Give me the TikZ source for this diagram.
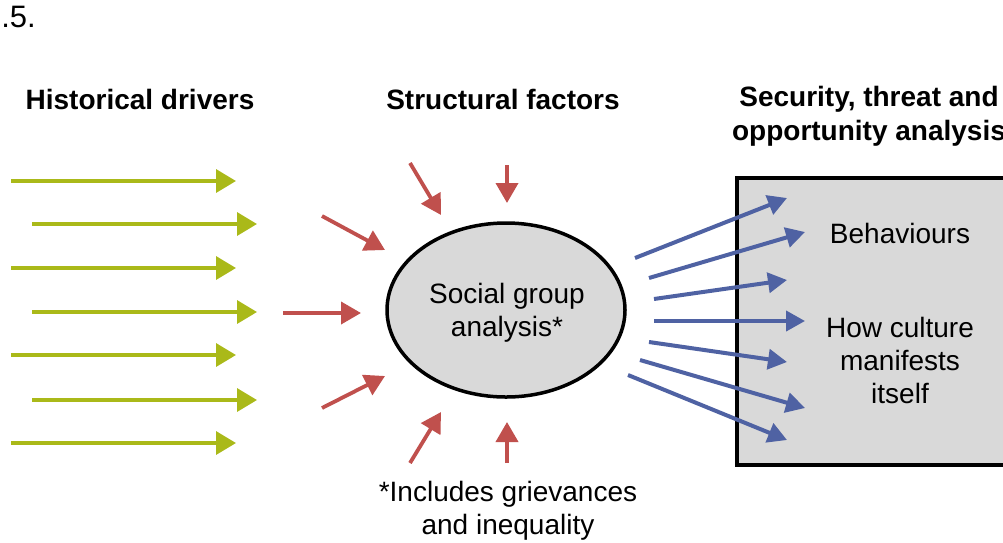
\documentclass[tikz,border=0pt]{standalone}
\usepackage{fontspec}
\setmainfont{Liberation Sans}
\usetikzlibrary{shapes.geometric,arrows.meta}
\definecolor{olivegreen}{RGB}{170,185,25}
\definecolor{brickred}{RGB}{192,80,77}
\definecolor{steelblue}{RGB}{79,98,163}
\definecolor{panelgray}{RGB}{217,217,217}
\tikzset{
  txt/.style={font=\fontsize{28}{33}\selectfont, align=center, inner sep=0pt},
  ttl/.style={font=\bfseries\fontsize{28}{34}\selectfont, align=center, inner sep=0pt},
  garrow/.style={draw=olivegreen, line width=3.4pt, -{Triangle[length=20pt,width=23pt]}},
  rarrow/.style={draw=brickred, line width=3.8pt, -{Triangle[length=20pt,width=22pt]}},
  barrow/.style={draw=steelblue, line width=4pt, -{Triangle[length=19pt,width=20pt]}},
}
\begin{document}
\begin{tikzpicture}[x=1pt,y=-1pt]
\useasboundingbox (0,0) rectangle (1003,542);
\clip (0,0) rectangle (1003,542);

% figure number (cut off at left)
\node[txt, font=\fontsize{31}{36}\selectfont, anchor=east] (fignum) at (36,17) {2.5.};

% titles
\node[ttl] (t1) at (140,99) {Historical drivers};
\node[ttl] (t2) at (503,99) {Structural factors};
\node[ttl] (t3) at (869,116) {Security, threat and\\opportunity analysis};

% right panel
\node[draw=black, line width=3.5pt, fill=panelgray, minimum width=300pt, minimum height=287pt, anchor=north west, inner sep=0pt] (panel) at (735,176) {};
\node[txt] (beh) at (900,233) {Behaviours};
\node[txt] (cult) at (900,360) {How culture\\manifests\\itself};

% central ellipse
\node[ellipse, draw=black, line width=3.5pt, fill=panelgray, minimum width=238pt, minimum height=174pt, inner sep=0pt] (sga) at (506,310) {};
\node[txt] (sgatext) at (507,313) {Social group\\analysis*};

% footnote
\node[txt] (note) at (508,511) {*Includes grievances\\and inequality};

% green arrows (historical drivers)
\foreach \i/\xs/\xe/\y in {1/11/236/181, 2/32/257/224, 3/11/236/268, 4/32/257/312, 5/11/236/355, 6/32/257/400, 7/11/236/443}{
  \coordinate (gs\i) at (\xs,\y);
  \coordinate (ge\i) at (\xe,\y);
  \draw[garrow] (gs\i) -- (ge\i);
}

% red arrows (structural factors)
\foreach \i/\xs/\ys/\xe/\ye in {1/410/163/441/215, 2/507/165/507/203, 3/322/216/385/250, 4/283/313/361/313, 5/322/408/385/376, 6/410/463/441/412, 7/507/463/507/422}{
  \coordinate (rs\i) at (\xs,\ys);
  \coordinate (re\i) at (\xe,\ye);
  \draw[rarrow] (rs\i) -- (re\i);
}

% blue arrows (outputs)
\foreach \i/\xs/\ys/\xe/\ye in {1/635/258/787/198, 2/649/278/805/232, 3/654/299/787/280, 4/654/321/805/321, 5/649/342/787/362, 6/640/360/805/408, 7/628/375/787/440}{
  \coordinate (bs\i) at (\xs,\ys);
  \coordinate (be\i) at (\xe,\ye);
  \draw[barrow] (bs\i) -- (be\i);
}
\end{tikzpicture}
\end{document}
